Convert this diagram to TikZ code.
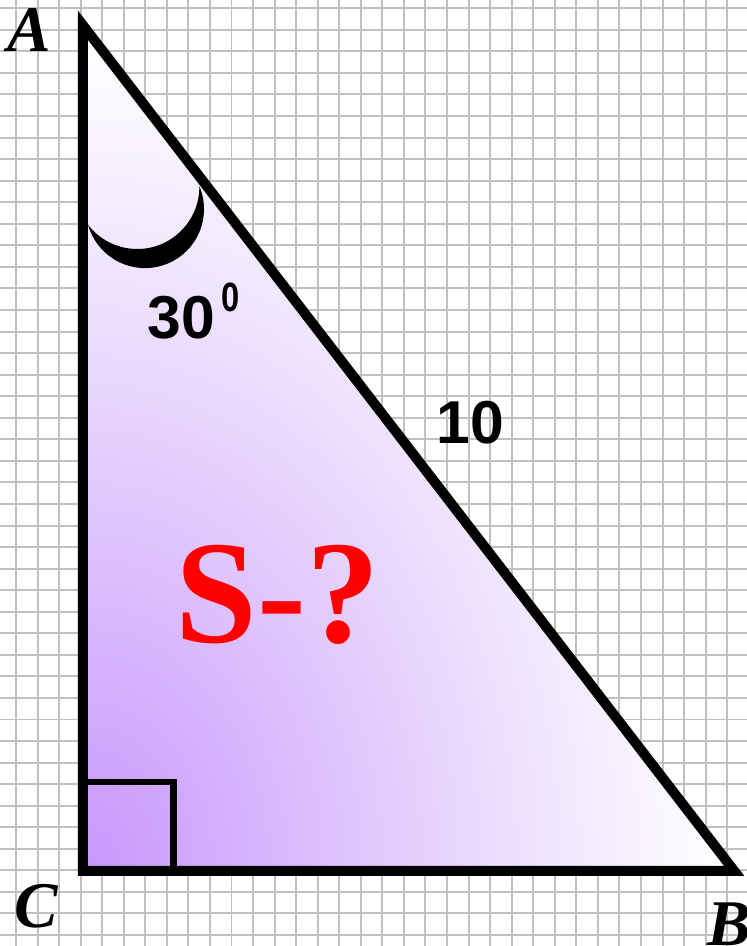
\documentclass[tikz,border=0pt]{standalone}
\usepackage{fontspec}
\newfontfamily\timesfont{Liberation Serif}
\newfontfamily\arialfont{Liberation Sans}

\definecolor{lilac}{RGB}{200,150,252}
\definecolor{lilacmid}{RGB}{228,206,253}
\definecolor{lilaclight}{RGB}{249,245,255}
\definecolor{gridgray}{RGB}{192,192,192}
\definecolor{askred}{RGB}{255,0,0}

% purple glow spreading out of the right-angle corner
\pgfdeclareradialshading{cornerglow}{\pgfpointorigin}{color(0bp)=(lilac); color(12.5bp)=(lilacmid); color(22bp)=(lilaclight); color(25bp)=(white); color(50bp)=(white)}

\begin{document}
\begin{tikzpicture}[
    % squared paper
    gridline/.style={draw=gridgray, line width=1.3pt},
    % outline of the triangle
    triline/.style={draw=black, line width=6.6pt, line join=miter, miter limit=10},
    % right-angle mark
    rightmark/.style={draw=black, line width=4.6pt},
    % vertex letters
    vlabel/.style={inner sep=0pt, font=\timesfont\bfseries\itshape\fontsize{43}{43}\selectfont},
    % numbers
    numlabel/.style={inner sep=0pt, font=\arialfont\bfseries\fontsize{40}{40}\selectfont},
    suplabel/.style={inner sep=0pt, xscale=0.8, font=\arialfont\bfseries\fontsize{27}{27}\selectfont},
    % the question
    asklabel/.style={inner sep=0pt, text=askred, font=\timesfont\bfseries\fontsize{97}{97}\selectfont},
]

\useasboundingbox (-0.371,-0.255) rectangle (16.959,21.692);

% --- background grid ---
\fill[white] (-0.371,-0.255) rectangle (16.959,21.692);
\draw[gridline, step=0.5] (-0.371,-0.255) grid (16.959,21.692);

% --- corners ---
\coordinate (A) at (1.55,21.11);
\coordinate (C) at (1.55,1.49);
\coordinate (B) at (16.66,1.49);

% --- shaded inside ---
\begin{scope}
    \clip (A) -- (C) -- (B) -- cycle;
    \shade[shading=cornerglow] (C) ellipse [x radius=15.11, y radius=19.62];
\end{scope}

% right angle at C
\draw[rightmark] (C) rectangle ++(2.1,2.06);

% angle mark at A (crescent)
\coordinate (arcstart) at (1.665,16.51);
\fill[black] (arcstart) arc[start angle=194, end angle=383, radius=1.369]
    arc[start angle=0.8, end angle=-143.4, radius=1.441] -- cycle;

% outline
\draw[triline] (A) -- (C) -- (B) -- cycle;

% --- labels ---
\node[vlabel] (labA) at (0.30,21.0) {A};
\node[vlabel] (labC) at (0.46,0.66) {C};
\node[vlabel] (labB) at (16.54,0.26) {B};

\node[numlabel] (angval) at (3.84,14.31) {30};
\node[suplabel] (angdeg) at (4.99,14.79) {0};
\node[numlabel] (hypval) at (10.54,11.89) {10};

\node[asklabel] (area) at (6.07,7.89) {S-?};

\end{tikzpicture}
\end{document}
